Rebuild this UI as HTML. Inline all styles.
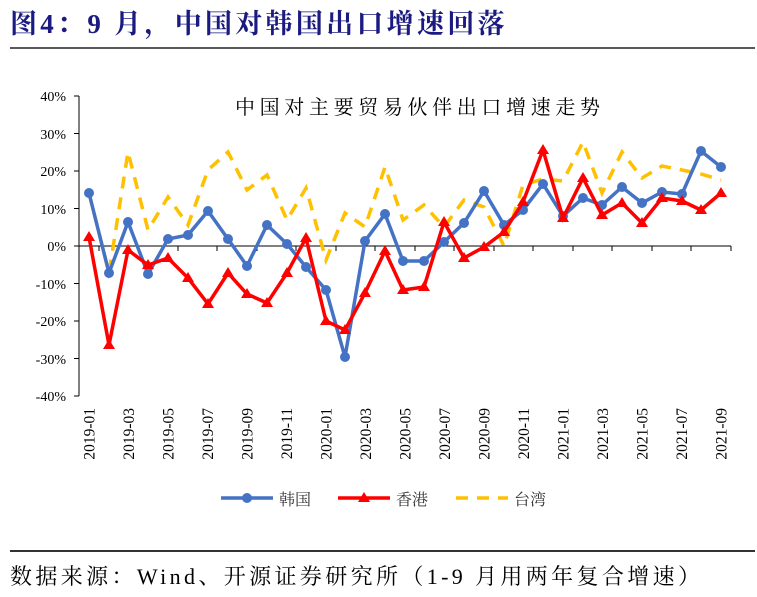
<!DOCTYPE html>
<html><head><meta charset="utf-8"><style>
body{margin:0;background:#fff;width:757px;height:592px;overflow:hidden}
</style></head><body>
<svg width="757" height="592" xmlns="http://www.w3.org/2000/svg" style="font-family:'Liberation Serif','Noto Serif CJK SC',serif">
<text x="10" y="33" font-size="27" font-weight="bold" fill="#1a1a80" letter-spacing="2.5" textLength="497" lengthAdjust="spacing">图4：9 月，中国对韩国出口增速回落</text>
<line x1="10" y1="48" x2="755" y2="48" stroke="#222" stroke-width="1.5"/>
<text x="235" y="114" font-size="20" fill="#000" textLength="365" lengthAdjust="spacing">中国对主要贸易伙伴出口增速走势</text>
<g font-size="14" text-anchor="end" fill="#000">
<text x="66" y="101">40%</text><text x="66" y="139">30%</text><text x="66" y="176">20%</text><text x="66" y="214">10%</text><text x="66" y="251">0%</text><text x="66" y="289">-10%</text><text x="66" y="326">-20%</text><text x="66" y="364">-30%</text><text x="66" y="401">-40%</text>
</g>
<g stroke="#000" stroke-width="1">
<line x1="79" y1="96" x2="79" y2="396"/>
<line x1="74" y1="96" x2="79" y2="96"/><line x1="74" y1="133.5" x2="79" y2="133.5"/><line x1="74" y1="171" x2="79" y2="171"/><line x1="74" y1="208.5" x2="79" y2="208.5"/><line x1="74" y1="246" x2="79" y2="246"/><line x1="74" y1="283.5" x2="79" y2="283.5"/><line x1="74" y1="321" x2="79" y2="321"/><line x1="74" y1="358.5" x2="79" y2="358.5"/><line x1="74" y1="396" x2="79" y2="396"/>
<line x1="79" y1="246" x2="731" y2="246"/>
<line x1="99" y1="246" x2="99" y2="251"/><line x1="138" y1="246" x2="138" y2="251"/><line x1="178" y1="246" x2="178" y2="251"/><line x1="217" y1="246" x2="217" y2="251"/><line x1="257" y1="246" x2="257" y2="251"/><line x1="296" y1="246" x2="296" y2="251"/><line x1="336" y1="246" x2="336" y2="251"/><line x1="375" y1="246" x2="375" y2="251"/><line x1="415" y1="246" x2="415" y2="251"/><line x1="454" y1="246" x2="454" y2="251"/><line x1="494" y1="246" x2="494" y2="251"/><line x1="533" y1="246" x2="533" y2="251"/><line x1="573" y1="246" x2="573" y2="251"/><line x1="612" y1="246" x2="612" y2="251"/><line x1="652" y1="246" x2="652" y2="251"/><line x1="691" y1="246" x2="691" y2="251"/><line x1="731" y1="246" x2="731" y2="251"/>
</g>
<polyline fill="none" stroke="#ffc000" stroke-width="3.5" stroke-dasharray="12,9" points="89,193 109,273 128,152 148,230 168,197 188,225 208,170 228,152 247,190 267,175 287,220 306,188 326,260 345,213 365,227 385,167 403,220 424,205 444,227 464,200 484,207 504,246 523,185 543,179 563,181 583,142 602,193 622,152 642,178 662,166 682,170 701,174 721,180"/>
<g fill="#4472c4"><polyline fill="none" stroke="#4472c4" stroke-width="3.5" points="89,193 109,273 128,222 148,274 168,239 188,235 208,211 228,239 247,266 267,225 287,244 306,267 326,290 345,357 365,241 385,214 403,261 424,261 444,242 464,223 484,191 504,225 523,210 543,184 563,216 583,198 602,205 622,187 642,203 662,192 682,194 701,151 721,167"/>
<circle cx="89" cy="193" r="5"/><circle cx="109" cy="273" r="5"/><circle cx="128" cy="222" r="5"/><circle cx="148" cy="274" r="5"/><circle cx="168" cy="239" r="5"/><circle cx="188" cy="235" r="5"/><circle cx="208" cy="211" r="5"/><circle cx="228" cy="239" r="5"/><circle cx="247" cy="266" r="5"/><circle cx="267" cy="225" r="5"/><circle cx="287" cy="244" r="5"/><circle cx="306" cy="267" r="5"/><circle cx="326" cy="290" r="5"/><circle cx="345" cy="357" r="5"/><circle cx="365" cy="241" r="5"/><circle cx="385" cy="214" r="5"/><circle cx="403" cy="261" r="5"/><circle cx="424" cy="261" r="5"/><circle cx="444" cy="242" r="5"/><circle cx="464" cy="223" r="5"/><circle cx="484" cy="191" r="5"/><circle cx="504" cy="225" r="5"/><circle cx="523" cy="210" r="5"/><circle cx="543" cy="184" r="5"/><circle cx="563" cy="216" r="5"/><circle cx="583" cy="198" r="5"/><circle cx="602" cy="205" r="5"/><circle cx="622" cy="187" r="5"/><circle cx="642" cy="203" r="5"/><circle cx="662" cy="192" r="5"/><circle cx="682" cy="194" r="5"/><circle cx="701" cy="151" r="5"/><circle cx="721" cy="167" r="5"/></g>
<polyline fill="none" stroke="#ff0000" stroke-width="3.5" points="89,237 109,345 128,250 148,265 168,258 188,278 208,304 228,273 247,294 267,303 287,273 306,238 326,321 345,330 365,293 385,251 403,290 424,287 444,222 464,258 484,247 504,232 523,202 543,150 563,218 583,178 602,215 622,203 642,223 662,198 682,201 701,210 721,193"/>
<g fill="#ff0000">
<path d="M89,231l6,10h-12z"/><path d="M109,339l6,10h-12z"/><path d="M128,244l6,10h-12z"/><path d="M148,259l6,10h-12z"/><path d="M168,252l6,10h-12z"/><path d="M188,272l6,10h-12z"/><path d="M208,298l6,10h-12z"/><path d="M228,267l6,10h-12z"/><path d="M247,288l6,10h-12z"/><path d="M267,297l6,10h-12z"/><path d="M287,267l6,10h-12z"/><path d="M306,232l6,10h-12z"/><path d="M326,315l6,10h-12z"/><path d="M345,324l6,10h-12z"/><path d="M365,287l6,10h-12z"/><path d="M385,245l6,10h-12z"/><path d="M403,284l6,10h-12z"/><path d="M424,281l6,10h-12z"/><path d="M444,216l6,10h-12z"/><path d="M464,252l6,10h-12z"/><path d="M484,241l6,10h-12z"/><path d="M504,226l6,10h-12z"/><path d="M523,196l6,10h-12z"/><path d="M543,144l6,10h-12z"/><path d="M563,212l6,10h-12z"/><path d="M583,172l6,10h-12z"/><path d="M602,209l6,10h-12z"/><path d="M622,197l6,10h-12z"/><path d="M642,217l6,10h-12z"/><path d="M662,192l6,10h-12z"/><path d="M682,195l6,10h-12z"/><path d="M701,204l6,10h-12z"/><path d="M721,187l6,10h-12z"/>
</g>
<g font-size="15.5" fill="#000" text-anchor="end">
<text transform="translate(94.5,408) rotate(-90)">2019-01</text><text transform="translate(134,408) rotate(-90)">2019-03</text><text transform="translate(173.5,408) rotate(-90)">2019-05</text><text transform="translate(213,408) rotate(-90)">2019-07</text><text transform="translate(252.5,408) rotate(-90)">2019-09</text><text transform="translate(292,408) rotate(-90)">2019-11</text><text transform="translate(331.5,408) rotate(-90)">2020-01</text><text transform="translate(371,408) rotate(-90)">2020-03</text><text transform="translate(410.5,408) rotate(-90)">2020-05</text><text transform="translate(450,408) rotate(-90)">2020-07</text><text transform="translate(489.5,408) rotate(-90)">2020-09</text><text transform="translate(529,408) rotate(-90)">2020-11</text><text transform="translate(568.5,408) rotate(-90)">2021-01</text><text transform="translate(608,408) rotate(-90)">2021-03</text><text transform="translate(647.5,408) rotate(-90)">2021-05</text><text transform="translate(687,408) rotate(-90)">2021-07</text><text transform="translate(726.5,408) rotate(-90)">2021-09</text>
</g>
<line x1="221" y1="498" x2="273" y2="498" stroke="#4472c4" stroke-width="3.5"/><circle cx="247" cy="498" r="5" fill="#4472c4"/>
<text x="279" y="505" font-size="16" fill="#333">韩国</text>
<line x1="338" y1="498" x2="390" y2="498" stroke="#ff0000" stroke-width="3.5"/><path d="M364,492l6,10h-12z" fill="#ff0000"/>
<text x="396" y="505" font-size="16" fill="#333">香港</text>
<line x1="456" y1="498" x2="508" y2="498" stroke="#ffc000" stroke-width="3.5" stroke-dasharray="12,9"/>
<text x="514" y="505" font-size="16" fill="#333">台湾</text>
<line x1="10" y1="551" x2="755" y2="551" stroke="#333" stroke-width="2"/>
<text x="10" y="584" font-size="22" fill="#000" textLength="690" lengthAdjust="spacing">数据来源：Wind、开源证券研究所（1-9 月用两年复合增速）</text>
</svg>
</body></html>
